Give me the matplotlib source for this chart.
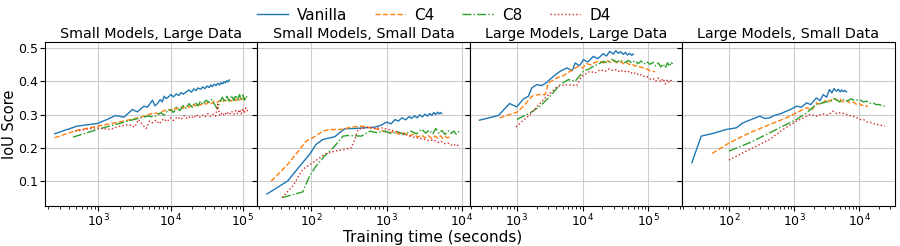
import matplotlib
matplotlib.use("Agg")
import matplotlib.pyplot as plt

titles = ["Small Models, Large Data", "Small Models, Small Data",
          "Large Models, Large Data", "Large Models, Small Data"]
methods = ["Vanilla", "C4", "C8", "D4"]

# ---- Panel 1: Small Models, Large Data ----
p1_van_t = [250, 510, 970, 1330, 1740, 2270, 2970, 3470, 4300, 4800, 5300, 5620, 6100, 6600, 7200, 7700, 8150, 8700, 9300, 10100, 11000, 12000, 13000, 14000, 15000, 16500, 18000, 19500, 21000, 22500, 24000, 26000, 28000, 30000, 32000, 34000, 36000, 38000, 40000, 42500, 45000, 47500, 50000, 52500, 55000, 57500, 60000, 62500, 65000]
p1_van_v = [0.242, 0.265, 0.273, 0.285, 0.297, 0.292, 0.315, 0.308, 0.325, 0.322, 0.335, 0.343, 0.326, 0.333, 0.345, 0.338, 0.355, 0.348, 0.352, 0.36, 0.353, 0.362, 0.357, 0.366, 0.361, 0.368, 0.374, 0.367, 0.377, 0.372, 0.38, 0.376, 0.383, 0.378, 0.386, 0.381, 0.389, 0.384, 0.391, 0.387, 0.394, 0.389, 0.396, 0.392, 0.399, 0.395, 0.402, 0.398, 0.404]
p1_c4_t = [250, 500, 970, 1740, 3120, 4300, 5900, 7000, 8000, 9100, 10000, 11000, 12000, 13500, 15000, 16500, 18000, 20000, 22000, 24000, 26000, 28000, 31000, 34000, 37000, 40000, 44000, 48000, 52000, 56000, 60000, 65000, 70000, 75000, 80000, 85000, 90000, 95000, 100000, 105000, 110000]
p1_c4_v = [0.23, 0.252, 0.265, 0.275, 0.287, 0.295, 0.305, 0.302, 0.311, 0.315, 0.312, 0.32, 0.316, 0.323, 0.319, 0.327, 0.322, 0.33, 0.326, 0.333, 0.328, 0.335, 0.331, 0.338, 0.333, 0.34, 0.336, 0.342, 0.337, 0.344, 0.339, 0.345, 0.34, 0.347, 0.342, 0.348, 0.343, 0.349, 0.344, 0.35, 0.346]
p1_c8_t = [450, 970, 1740, 3120, 4800, 6000, 7300, 8200, 9100, 10000, 11000, 12000, 13500, 15000, 16500, 18000, 20000, 22000, 24000, 26000, 28000, 31000, 34000, 37000, 40000, 44000, 48000, 52000, 56000, 60000, 65000, 70000, 75000, 80000, 85000, 90000, 95000, 100000, 105000, 110000, 117000]
p1_c8_v = [0.232, 0.255, 0.27, 0.285, 0.295, 0.293, 0.305, 0.298, 0.312, 0.315, 0.306, 0.322, 0.312, 0.327, 0.318, 0.333, 0.322, 0.337, 0.326, 0.34, 0.33, 0.343, 0.336, 0.345, 0.333, 0.318, 0.336, 0.352, 0.338, 0.355, 0.34, 0.357, 0.342, 0.358, 0.344, 0.36, 0.345, 0.358, 0.343, 0.356, 0.35]
p1_d4_t = [485, 917, 1480, 1830, 2660, 3200, 3600, 4080, 4600, 5100, 5600, 6300, 7000, 8000, 9000, 10000, 11000, 12500, 14000, 15500, 17000, 19000, 21000, 23000, 25000, 27500, 30000, 33000, 36000, 39000, 42000, 45000, 48000, 52000, 56000, 60000, 65000, 70000, 75000, 80000, 85000, 90000, 95000, 100000, 105000, 110000, 117000]
p1_d4_v = [0.25, 0.26, 0.255, 0.263, 0.27, 0.262, 0.285, 0.27, 0.258, 0.28, 0.275, 0.283, 0.272, 0.287, 0.279, 0.29, 0.282, 0.293, 0.285, 0.297, 0.287, 0.295, 0.289, 0.3, 0.291, 0.298, 0.292, 0.303, 0.294, 0.301, 0.295, 0.33, 0.296, 0.306, 0.297, 0.308, 0.299, 0.31, 0.3, 0.312, 0.301, 0.315, 0.302, 0.318, 0.304, 0.32, 0.31]

# ---- Panel 2: Small Models, Small Data ----
p2_van_t = [25.9, 48.7, 73.6, 95, 116, 143, 205, 238, 278, 378, 513, 700, 850, 1000, 1150, 1300, 1430, 1600, 1800, 2000, 2150, 2350, 2550, 2750, 3000, 3240, 3500, 3750, 4000, 4250, 4500, 4750, 5000, 5200, 5400]
p2_van_v = [0.061, 0.1, 0.15, 0.18, 0.21, 0.225, 0.233, 0.245, 0.257, 0.258, 0.26, 0.262, 0.268, 0.277, 0.272, 0.285, 0.28, 0.29, 0.284, 0.294, 0.288, 0.296, 0.29, 0.299, 0.293, 0.301, 0.295, 0.303, 0.297, 0.306, 0.3, 0.307, 0.302, 0.306, 0.303]
p2_c4_t = [29.3, 48.7, 85.8, 105, 143, 175, 251, 341, 464, 600, 700, 850, 1050, 1250, 1450, 1750, 2000, 2300, 2600, 2920, 3250, 3600, 4000, 4400, 4800, 5200, 5600, 6000, 6500, 7000]
p2_c4_v = [0.099, 0.15, 0.22, 0.23, 0.25, 0.255, 0.255, 0.262, 0.265, 0.26, 0.258, 0.252, 0.245, 0.248, 0.241, 0.244, 0.236, 0.241, 0.232, 0.238, 0.23, 0.236, 0.228, 0.235, 0.229, 0.236, 0.228, 0.234, 0.23, 0.233]
p2_c8_t = [41, 77, 95, 116, 150, 205, 264, 308, 464, 598, 750, 950, 1150, 1400, 1750, 2100, 2500, 2920, 3300, 3700, 4100, 4500, 5000, 5400, 6000, 6600, 7200, 7800, 8400, 9000, 9500]
p2_c8_v = [0.05, 0.067, 0.115, 0.145, 0.175, 0.205, 0.235, 0.237, 0.235, 0.25, 0.245, 0.25, 0.243, 0.248, 0.24, 0.25, 0.242, 0.256, 0.244, 0.253, 0.241, 0.258, 0.243, 0.252, 0.24, 0.251, 0.243, 0.25, 0.241, 0.248, 0.245]
p2_d4_t = [41, 57, 77, 105, 150, 205, 278, 341, 378, 418, 568, 700, 855, 1050, 1290, 1550, 1940, 2300, 2700, 3240, 3700, 4200, 4800, 5400, 6000, 6600, 7200, 7800, 8400, 9000, 9500]
p2_d4_v = [0.05, 0.085, 0.135, 0.155, 0.18, 0.19, 0.195, 0.2, 0.225, 0.255, 0.262, 0.258, 0.26, 0.255, 0.25, 0.244, 0.237, 0.232, 0.229, 0.225, 0.221, 0.224, 0.216, 0.219, 0.212, 0.214, 0.208, 0.211, 0.205, 0.208, 0.205]

# ---- Panel 3: Large Models, Large Data ----
p3_van_t = [270, 525, 773, 1000, 1260, 1500, 1690, 2010, 2400, 2860, 3600, 4550, 5750, 7000, 7700, 9000, 10300, 12000, 14600, 17000, 20700, 23000, 26000, 29400, 32000, 35000, 38000, 41600, 45000, 48000, 52000, 56000, 59000]
p3_van_v = [0.283, 0.297, 0.333, 0.323, 0.347, 0.355, 0.38, 0.39, 0.387, 0.397, 0.415, 0.43, 0.44, 0.432, 0.455, 0.447, 0.465, 0.458, 0.475, 0.468, 0.483, 0.476, 0.49, 0.482, 0.492, 0.484, 0.489, 0.481, 0.487, 0.479, 0.484, 0.478, 0.482]
p3_c4_t = [545, 1000, 1290, 1690, 2130, 2690, 3020, 4060, 5110, 6450, 8640, 10000, 11600, 13500, 15500, 18500, 21000, 24000, 27000, 30000, 34000, 38000, 42000, 47000, 52000, 57000, 62000, 68000, 75000, 82000, 90000, 98000, 106000, 115000, 126000]
p3_c4_v = [0.29, 0.307, 0.327, 0.355, 0.36, 0.36, 0.395, 0.41, 0.417, 0.43, 0.445, 0.44, 0.453, 0.449, 0.457, 0.46, 0.455, 0.462, 0.456, 0.461, 0.455, 0.459, 0.453, 0.456, 0.45, 0.452, 0.446, 0.448, 0.443, 0.441, 0.437, 0.436, 0.432, 0.431, 0.428]
p3_c8_t = [1000, 1590, 2260, 3210, 4550, 6090, 7700, 10300, 12500, 14600, 17500, 20700, 24000, 28000, 33000, 38000, 44000, 50000, 56000, 62000, 70000, 78000, 86000, 95000, 106000, 118000, 130000, 142000, 155000, 168000, 182000, 196000, 210000, 222000, 234000]
p3_c8_v = [0.285, 0.305, 0.325, 0.355, 0.39, 0.405, 0.4, 0.43, 0.437, 0.445, 0.452, 0.46, 0.455, 0.466, 0.458, 0.464, 0.456, 0.463, 0.455, 0.462, 0.453, 0.461, 0.452, 0.459, 0.451, 0.457, 0.446, 0.455, 0.443, 0.452, 0.44, 0.456, 0.445, 0.458, 0.452]
p3_d4_t = [975, 1590, 2540, 4060, 5420, 8160, 9700, 13000, 15500, 18500, 22000, 25000, 29400, 33000, 37000, 41000, 46900, 52000, 58000, 65000, 72000, 79400, 88000, 97000, 108000, 119000, 130000, 142000, 155000, 168000, 182000, 196000, 210000, 222000, 234000]
p3_d4_v = [0.263, 0.3, 0.345, 0.383, 0.39, 0.387, 0.415, 0.43, 0.425, 0.435, 0.43, 0.437, 0.432, 0.435, 0.428, 0.433, 0.427, 0.43, 0.422, 0.426, 0.418, 0.42, 0.413, 0.414, 0.406, 0.408, 0.4, 0.41, 0.398, 0.408, 0.392, 0.405, 0.396, 0.403, 0.398]

# ---- Panel 4: Large Models, Small Data ----
p4_van_t = [27, 37.6, 56.6, 91, 130, 164, 221, 297, 360, 423, 480, 567, 650, 763, 900, 1090, 1300, 1550, 1800, 2200, 2500, 2800, 3150, 3500, 3800, 4100, 4490, 4800, 5100, 5400, 5700, 6000, 6400]
p4_van_v = [0.155, 0.235, 0.243, 0.255, 0.26, 0.275, 0.285, 0.295, 0.288, 0.29, 0.296, 0.3, 0.304, 0.31, 0.316, 0.325, 0.322, 0.335, 0.33, 0.35, 0.342, 0.36, 0.352, 0.375, 0.365, 0.378, 0.37, 0.376, 0.368, 0.374, 0.369, 0.372, 0.368]
p4_c4_t = [55.6, 102, 208, 423, 763, 1090, 1550, 1900, 2200, 2600, 3150, 3600, 4000, 4490, 5000, 5600, 6300, 7200, 8000, 9000, 10000, 11000, 12000, 13000, 13600]
p4_c4_v = [0.183, 0.215, 0.245, 0.27, 0.29, 0.305, 0.32, 0.315, 0.335, 0.33, 0.345, 0.34, 0.35, 0.343, 0.347, 0.338, 0.342, 0.335, 0.338, 0.331, 0.333, 0.327, 0.329, 0.324, 0.325]
p4_c8_t = [100, 208, 423, 676, 1090, 1550, 2200, 2700, 3540, 4200, 5000, 5670, 6500, 7500, 8500, 10200, 11500, 13000, 14500, 16400, 18000, 20000, 22000, 24800]
p4_c8_v = [0.19, 0.215, 0.245, 0.265, 0.285, 0.305, 0.33, 0.335, 0.34, 0.348, 0.338, 0.345, 0.34, 0.347, 0.343, 0.345, 0.338, 0.34, 0.334, 0.335, 0.33, 0.33, 0.327, 0.325]
p4_d4_t = [100, 208, 423, 676, 1090, 1400, 1740, 2200, 2790, 3300, 3980, 4500, 5200, 6400, 7500, 8800, 10200, 11800, 13500, 15000, 16400, 18500, 21000, 24800]
p4_d4_v = [0.163, 0.195, 0.225, 0.255, 0.28, 0.29, 0.3, 0.295, 0.302, 0.298, 0.31, 0.303, 0.306, 0.3, 0.296, 0.292, 0.285, 0.284, 0.277, 0.276, 0.273, 0.27, 0.268, 0.265]

panels = [
    [(p1_van_t, p1_van_v), (p1_c4_t, p1_c4_v), (p1_c8_t, p1_c8_v), (p1_d4_t, p1_d4_v)],
    [(p2_van_t, p2_van_v), (p2_c4_t, p2_c4_v), (p2_c8_t, p2_c8_v), (p2_d4_t, p2_d4_v)],
    [(p3_van_t, p3_van_v), (p3_c4_t, p3_c4_v), (p3_c8_t, p3_c8_v), (p3_d4_t, p3_d4_v)],
    [(p4_van_t, p4_van_v), (p4_c4_t, p4_c4_v), (p4_c8_t, p4_c8_v), (p4_d4_t, p4_d4_v)],
]

colors = ["#1f77b4", "#ff7f0e", "#2ca02c", "#d62728"]
styles = ["-", "--", "-.", ":"]
yticks = [0.1, 0.2, 0.3, 0.4, 0.5]

fig, axes = plt.subplots(1, 4, figsize=(9, 2.46), dpi=100, sharey=True)
fig.subplots_adjust(left=0.05, right=0.994, bottom=0.163, top=0.829, wspace=0)

for ax, title, series in zip(axes, titles, panels):
    for (t, v), c, ls, name in zip(series, colors, styles, methods):
        ax.plot(t, v, color=c, linestyle=ls, linewidth=1.0, label=name)
    ax.set_xscale("log")
    ax.set_title(title, fontsize=10.3, pad=3)
    ax.grid(True, which="major", color="#cccccc", linewidth=0.8)
    ax.tick_params(labelsize=9, pad=1.5)
    ax.set_axisbelow(True)

axes[0].set_ylim(0.025, 0.518)
axes[0].set_yticks(yticks)
axes[0].set_ylabel("IoU Score", fontsize=10.5)
axes[0].yaxis.set_label_coords(-0.132, 0.5)

handles, labels = axes[0].get_legend_handles_labels()
fig.legend(handles, labels, loc="upper center", ncol=4, frameon=False,
           fontsize=11, bbox_to_anchor=(0.482, 1.025), handlelength=2.0,
           handletextpad=0.6, columnspacing=1.8)
fig.text(0.481, 0.004, "Training time (seconds)", ha="center", va="bottom", fontsize=11)

fig.savefig("out.png", dpi=100)
